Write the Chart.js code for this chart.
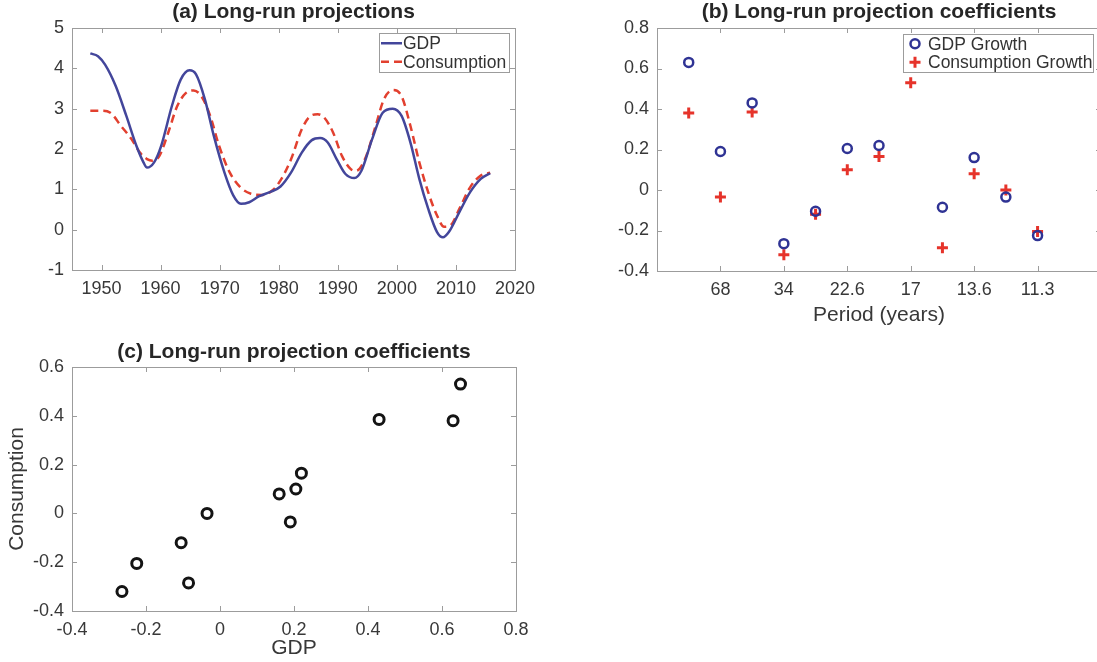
<!DOCTYPE html>
<html>
<head>
<meta charset="utf-8">
<script src="https://cdn.jsdelivr.net/npm/chart.js@4.4.1/dist/chart.umd.min.js"></script>
<style>
  html, body { margin: 0; padding: 0; background: #fff; overflow: hidden; }
  #wrap { position: relative; width: 1097px; height: 662px; overflow: hidden; }
  canvas { position: absolute; }
</style>
</head>
<body>
<div id="wrap">
  <canvas id="chartA" width="560" height="330" style="left:0;top:0"></canvas>
  <canvas id="chartB" width="560" height="330" style="left:560px;top:0"></canvas>
  <canvas id="chartC" width="560" height="332" style="left:0;top:330px"></canvas>
</div>
<script>
// (a) long-run projections
const gdpYears = [1948.1, 1949.4, 1950.6, 1952.4, 1954.2, 1955.9, 1957.1, 1957.7, 1958.9, 1960.1, 1961.9, 1963.4, 1964.9, 1966.0, 1967.5, 1969.0, 1970.8, 1972.3, 1973.6, 1975.0, 1976.7, 1978.5, 1980.3, 1982.1, 1983.9, 1985.6, 1987.0, 1988.3, 1989.8, 1991.3, 1992.8, 1994.0, 1995.8, 1997.6, 1999.3, 2000.8, 2002.3, 2003.8, 2005.3, 2006.8, 2007.8, 2008.8, 2010.6, 2012.4, 2014.2, 2015.8];
const gdpLevel = [4.37, 4.30, 4.09, 3.56, 2.82, 2.08, 1.67, 1.54, 1.67, 2.08, 3.06, 3.72, 3.95, 3.85, 3.23, 2.33, 1.42, 0.85, 0.64, 0.68, 0.83, 0.93, 1.07, 1.42, 1.91, 2.22, 2.27, 2.16, 1.75, 1.38, 1.28, 1.46, 2.24, 2.90, 3.00, 2.82, 2.16, 1.26, 0.52, -0.06, -0.19, -0.06, 0.44, 0.93, 1.26, 1.40];
const consYears = [1948.1, 1950.0, 1951.5, 1953.3, 1955.1, 1956.5, 1957.7, 1958.6, 1959.8, 1961.3, 1962.8, 1964.3, 1965.6, 1966.9, 1968.4, 1969.9, 1971.7, 1973.5, 1975.3, 1977.1, 1978.9, 1980.3, 1982.1, 1983.9, 1985.4, 1986.6, 1987.7, 1989.2, 1990.7, 1992.2, 1993.1, 1994.6, 1996.4, 1997.8, 1999.3, 2000.8, 2002.3, 2003.8, 2005.3, 2006.8, 2008.0, 2009.1, 2010.6, 2012.4, 2014.2, 2015.8];
const consLevel = [2.95, 2.95, 2.90, 2.57, 2.24, 1.91, 1.75, 1.71, 1.83, 2.41, 3.06, 3.39, 3.45, 3.31, 2.82, 2.08, 1.42, 1.05, 0.89, 0.86, 0.97, 1.22, 1.75, 2.49, 2.82, 2.86, 2.78, 2.41, 1.83, 1.50, 1.46, 1.75, 2.57, 3.23, 3.46, 3.31, 2.57, 1.67, 0.93, 0.35, 0.07, 0.11, 0.52, 1.05, 1.34, 1.41];

// (b)/(c) projection coefficients per harmonic (period = 136 / k years)
const harmonic = [1, 2, 3, 4, 5, 6, 7, 8, 9, 10, 11, 12];
const gdpCoef = [0.63, 0.19, 0.43, -0.265, -0.105, 0.205, 0.22, 0.65, -0.085, 0.16, -0.035, -0.225];
const consCoef = [0.38, -0.035, 0.385, -0.32, -0.12, 0.10, 0.165, 0.53, -0.285, 0.08, 0.0, -0.205];

// tick labels
const yearTicks = [1950, 1960, 1970, 1980, 1990, 2000, 2010, 2020];
const levelTicks = [-1, 0, 1, 2, 3, 4, 5];
const periodTickPos = [2, 4, 6, 8, 10, 12];
const periodLabels = ['68', '34', '22.6', '17', '13.6', '11.3'];
const coefTicksB = [-0.4, -0.2, 0, 0.2, 0.4, 0.6, 0.8];
const gdpTicksC = [-0.4, -0.2, 0, 0.2, 0.4, 0.6, 0.8];
const consTicksC = [-0.4, -0.2, 0, 0.2, 0.4, 0.6];

const FONT = '"Liberation Sans", Arial, Helvetica, sans-serif';
const TICK_COLOR = '#383838';
const FRAME = '#9c9c9c';
const tickFont = { family: FONT, size: 18 };

const panelTitle = {
  id: 'panelTitle',
  afterDraw(chart, args, o) {
    const { ctx, chartArea } = chart;
    ctx.save();
    ctx.font = 'bold 21px ' + FONT;
    ctx.fillStyle = '#262626';
    ctx.textAlign = 'center';
    ctx.textBaseline = 'alphabetic';
    ctx.fillText(o.text, (chartArea.left + chartArea.right) / 2, o.y);
    ctx.restore();
  }
};

// matlab-like box with inward ticks on all four sides
const boxFrame = {
  id: 'boxFrame',
  afterDatasetsDraw(chart) {
    const { ctx, chartArea: a, scales } = chart;
    const len = 5;
    ctx.save();
    ctx.strokeStyle = FRAME;
    ctx.lineWidth = 1;
    ctx.beginPath();
    scales.x.ticks.forEach(t => {
      const px = Math.round(scales.x.getPixelForValue(t.value)) + 0.5;
      ctx.moveTo(px, a.bottom); ctx.lineTo(px, a.bottom - len);
      ctx.moveTo(px, a.top); ctx.lineTo(px, a.top + len);
    });
    scales.y.ticks.forEach(t => {
      const py = Math.round(scales.y.getPixelForValue(t.value)) + 0.5;
      ctx.moveTo(a.left, py); ctx.lineTo(a.left + len, py);
      ctx.moveTo(a.right, py); ctx.lineTo(a.right - len, py);
    });
    ctx.stroke();
    ctx.strokeRect(Math.round(a.left) + 0.5, Math.round(a.top) + 0.5,
      Math.round(a.right - a.left), Math.round(a.bottom - a.top));
    ctx.restore();
  }
};

const boxLegend = {
  id: 'boxLegend',
  afterDraw(chart, args, o) {
    const { ctx, chartArea: a } = chart;
    const ds = chart.data.datasets;
    ctx.save();
    ctx.font = '17.5px ' + FONT;
    const tw = Math.max(...ds.map(d => ctx.measureText(d.label).width));
    const w = Math.round(o.textX + tw + o.padR);
    const h = Math.round(o.rowH * ds.length + o.padV * 2);
    const x0 = Math.round(a.right - o.inset - w);
    const y0 = Math.round(a.top + o.top);
    ctx.fillStyle = '#fff';
    ctx.fillRect(x0, y0, w, h);
    ctx.strokeStyle = FRAME;
    ctx.lineWidth = 1;
    ctx.strokeRect(x0 + 0.5, y0 + 0.5, w, h);
    ds.forEach((d, i) => {
      const cy = y0 + o.padV + o.rowH * (i + 0.5);
      ctx.save();
      ctx.strokeStyle = d.borderColor;
      ctx.lineWidth = d.borderWidth;
      ctx.beginPath();
      if (o.kind === 'line') {
        ctx.setLineDash(d.borderDash || []);
        ctx.moveTo(x0 + 2, cy); ctx.lineTo(x0 + 23, cy);
      } else if (d.pointStyle === 'cross') {
        const r = d.pointRadius, cx = x0 + o.markX;
        ctx.moveTo(cx - r, cy); ctx.lineTo(cx + r, cy);
        ctx.moveTo(cx, cy - r); ctx.lineTo(cx, cy + r);
      } else {
        ctx.arc(x0 + o.markX, cy, d.pointRadius, 0, Math.PI * 2);
      }
      ctx.stroke();
      ctx.restore();
      ctx.fillStyle = '#333';
      ctx.textBaseline = 'middle';
      ctx.fillText(d.label, x0 + o.textX, cy + 1);
    });
    ctx.restore();
  }
};

function fixedTicks(list) {
  return s => { s.ticks = list.map(v => ({ value: v })); };
}

function axis(min, max, list, size, extra) {
  return Object.assign({
    type: 'linear', min: min, max: max,
    afterBuildTicks: fixedTicks(list),
    grid: { display: false, drawTicks: false },
    border: { display: false },
    ticks: { font: tickFont, color: TICK_COLOR, padding: 8, autoSkip: false, maxRotation: 0,
      callback: v => String(v) }
  }, extra);
}

const base = {
  responsive: false,
  animation: false,
  events: [],
};

// (a)
new Chart(document.getElementById('chartA'), {
  type: 'line',
  data: {
    datasets: [
      { label: 'GDP', data: gdpYears.map((x, i) => ({ x: x, y: gdpLevel[i] })),
        borderColor: '#43469b', borderWidth: 2.5, pointRadius: 0, fill: false,
        cubicInterpolationMode: 'monotone' },
      { label: 'Consumption', data: consYears.map((x, i) => ({ x: x, y: consLevel[i] })),
        borderColor: '#e2402f', borderWidth: 2.5, borderDash: [8, 5], pointRadius: 0, fill: false,
        cubicInterpolationMode: 'monotone' }
    ]
  },
  options: Object.assign({}, base, {
    layout: { padding: { left: 0, top: 28, right: 45, bottom: 0 }, autoPadding: false },
    plugins: {
      legend: { display: false }, tooltip: { enabled: false },
      panelTitle: { text: '(a) Long-run projections', y: 18 },
      boxLegend: { kind: 'line', inset: 6, top: 5, textX: 24, padR: 3, padV: 1, rowH: 18.5 }
    },
    scales: {
      x: axis(1945, 2020, yearTicks, 0, { afterFit: s => { s.height = 60; } }),
      y: axis(-1, 5, levelTicks, 0, { afterFit: s => { s.width = 72; } })
    }
  }),
  plugins: [boxFrame, boxLegend, panelTitle]
});

// (b)
new Chart(document.getElementById('chartB'), {
  type: 'scatter',
  data: {
    datasets: [
      { label: 'GDP Growth', data: harmonic.map((k, i) => ({ x: k, y: gdpCoef[i] })),
        pointStyle: 'circle', pointRadius: 4.5, borderWidth: 2.5,
        borderColor: '#2f3394', backgroundColor: 'rgba(0,0,0,0)' },
      { label: 'Consumption Growth', data: harmonic.map((k, i) => ({ x: k, y: consCoef[i] })),
        pointStyle: 'cross', pointRadius: 5.5, borderWidth: 3,
        borderColor: '#e6332a', backgroundColor: '#e6332a' }
    ]
  },
  options: Object.assign({}, base, {
    layout: { padding: { left: 0, top: 28, right: 19, bottom: 0 }, autoPadding: false },
    plugins: {
      legend: { display: false }, tooltip: { enabled: false },
      panelTitle: { text: '(b) Long-run projection coefficients', y: 18 },
      boxLegend: { kind: 'marker', inset: 8, top: 6, markX: 12, textX: 25, padR: 1, padV: 0.5, rowH: 18.5 }
    },
    scales: {
      x: axis(0, 14, periodTickPos, 0, {
        afterFit: s => { s.height = 59; },
        title: { display: true, text: 'Period (years)', color: TICK_COLOR,
          font: { family: FONT, size: 21 }, padding: { top: 0, bottom: 2 } }
      }),
      y: axis(-0.4, 0.8, coefTicksB, 0, { afterFit: s => { s.width = 97; } })
    }
  }),
  plugins: [boxFrame, boxLegend, panelTitle]
});
Chart.getChart('chartB').options.scales.x.ticks.callback = (v, i) => periodLabels[i];
Chart.getChart('chartB').update();

// (c)
new Chart(document.getElementById('chartC'), {
  type: 'scatter',
  data: {
    datasets: [
      { label: 'coefficients', data: gdpCoef.map((g, i) => ({ x: g, y: consCoef[i] })),
        pointStyle: 'circle', pointRadius: 5, borderWidth: 3,
        borderColor: '#141414', backgroundColor: 'rgba(0,0,0,0)' }
    ]
  },
  options: Object.assign({}, base, {
    layout: { padding: { left: 0, top: 37, right: 44, bottom: 0 }, autoPadding: false },
    plugins: {
      legend: { display: false }, tooltip: { enabled: false },
      panelTitle: { text: '(c) Long-run projection coefficients', y: 28 }
    },
    scales: {
      x: axis(-0.4, 0.8, gdpTicksC, 0, {
        afterFit: s => { s.height = 51; },
        title: { display: true, text: 'GDP', color: TICK_COLOR,
          font: { family: FONT, size: 21 }, padding: { top: 0, bottom: 1 } }
      }),
      y: axis(-0.4, 0.6, consTicksC, 0, {
        afterFit: s => { s.width = 72; },
        title: { display: true, text: 'Consumption', color: TICK_COLOR,
          font: { family: FONT, size: 21 }, padding: { top: 5, bottom: 0 } }
      })
    }
  }),
  plugins: [boxFrame, panelTitle]
});
</script>
</body>
</html>
